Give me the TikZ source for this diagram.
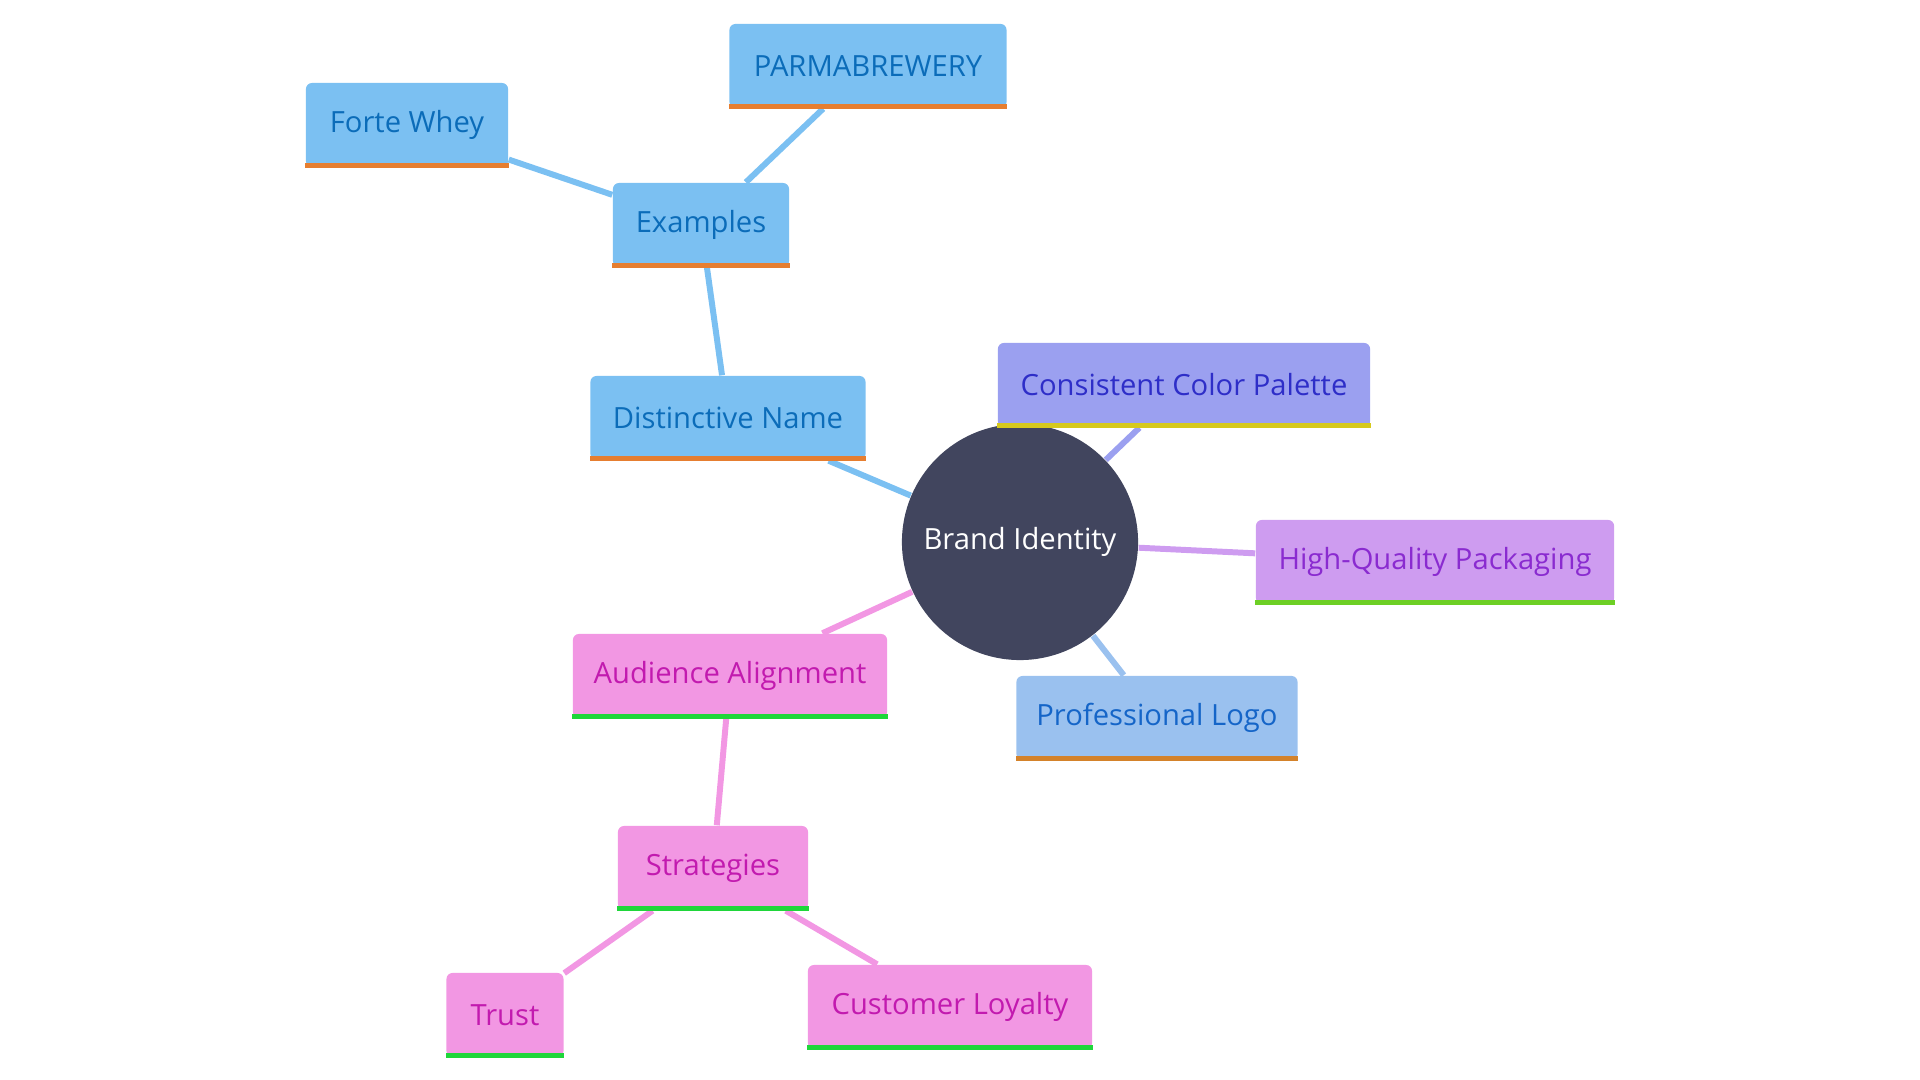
\documentclass[tikz,border=0pt]{standalone}
\usepackage{fontspec}
\setmainfont{Open Sans}
\usetikzlibrary{backgrounds}
\definecolor{blueFill}{HTML}{7BC0F2}
\definecolor{blueText}{HTML}{0B6CB9}
\definecolor{palFill}{HTML}{9BA0F0}
\definecolor{palText}{HTML}{2E2EC8}
\definecolor{packFill}{HTML}{CE9CF0}
\definecolor{packText}{HTML}{8A2BD0}
\definecolor{logoFill}{HTML}{9AC1EF}
\definecolor{logoText}{HTML}{1565C8}
\definecolor{pinkFill}{HTML}{F297E3}
\definecolor{pinkText}{HTML}{C21AAF}
\definecolor{hubFill}{HTML}{41455E}
\definecolor{barOrange}{HTML}{E67E30}
\definecolor{barYellow}{HTML}{D6C91C}
\definecolor{barLime}{HTML}{6DCF25}
\definecolor{barBrown}{HTML}{D4822A}
\definecolor{barGreen}{HTML}{1FD63A}
\tikzset{
  box/.style={rectangle, rounded corners=0.06cm, minimum height=0.84cm,
    inner sep=0pt, font=\fontsize{8.3}{10}\selectfont},
  bluebox/.style={box, fill=blueFill, text=blueText},
  palbox/.style={box, fill=palFill, text=palText},
  packbox/.style={box, fill=packFill, text=packText},
  logobox/.style={box, fill=logoFill, text=logoText},
  pinkbox/.style={box, fill=pinkFill, text=pinkText},
  hub/.style={circle, fill=hubFill, text=white, minimum size=2.36cm,
    inner sep=0pt, font=\fontsize{8.3}{10}\selectfont},
  link/.style={line width=1.7pt}
}
\begin{document}
\begin{tikzpicture}[x=0.01cm, y=-0.01cm]
  \useasboundingbox (0,0) rectangle (1920,1080);
  % centre
  \node[hub] (brand) at (1020,542) {Brand Identity};
  % branches
  \node[bluebox, minimum width=2.75cm] (name) at (728,418) {Distinctive Name};
  \node[bluebox, minimum width=1.76cm] (examples) at (701,225) {Examples};
  \node[bluebox, minimum width=2.02cm] (forte) at (407,125) {Forte Whey};
  \node[bluebox, minimum width=2.77cm] (parma) at (868,66) {PARMABREWERY};
  \node[palbox, minimum width=3.72cm] (palette) at (1184,385) {Consistent Color Palette};
  \node[packbox, minimum width=3.58cm] (packaging) at (1435,562) {High-Quality Packaging};
  \node[logobox, minimum width=2.81cm] (logo) at (1157,718) {Professional Logo};
  \node[pinkbox, minimum width=3.14cm] (audience) at (730,676) {Audience Alignment};
  \node[pinkbox, minimum width=1.90cm] (strategies) at (713,868) {Strategies};
  \node[pinkbox, minimum width=1.17cm] (trust) at (505,1015) {Trust};
  \node[pinkbox, minimum width=2.84cm] (loyalty) at (950,1007) {Customer Loyalty};
  % bottom bars
  \foreach \n/\c in {name/barOrange, examples/barOrange, forte/barOrange,
      parma/barOrange, palette/barYellow, packaging/barLime, logo/barBrown,
      audience/barGreen, strategies/barGreen, trust/barGreen, loyalty/barGreen}
    \fill[\c] (\n.south west) rectangle ([yshift=0.05cm]\n.south east);
  % links
  \begin{scope}[on background layer]
    \draw[link, blueFill] (brand) -- (name);
    \draw[link, blueFill] (name) -- (examples);
    \draw[link, blueFill] (examples) -- (forte);
    \draw[link, blueFill] (examples) -- (parma);
    \draw[link, palFill] (brand) -- (palette);
    \draw[link, packFill] (brand) -- (packaging);
    \draw[link, logoFill] (brand) -- (logo);
    \draw[link, pinkFill] (brand) -- (audience);
    \draw[link, pinkFill] (audience) -- (strategies);
    \draw[link, pinkFill] (strategies) -- (trust);
    \draw[link, pinkFill] (strategies) -- (loyalty);
  \end{scope}
\end{tikzpicture}
\end{document}
